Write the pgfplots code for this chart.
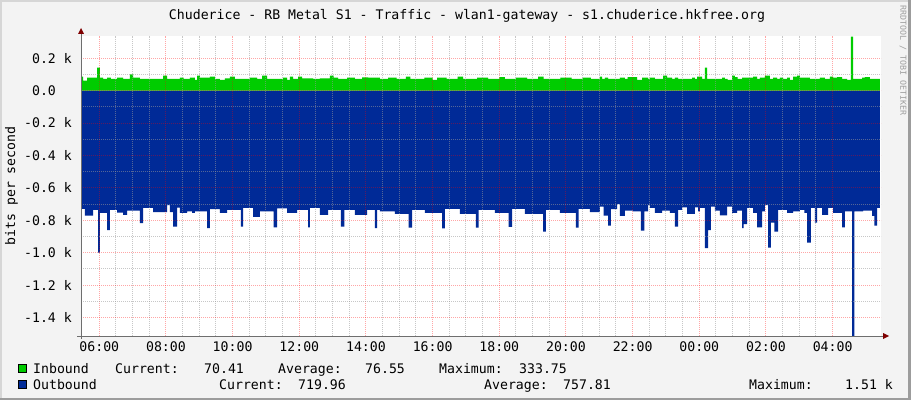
\documentclass[border=0pt]{standalone}
\usepackage{pgfplots}
\pgfplotsset{compat=1.18}
\usepackage{pgfplotstable}
\usepackage{fontspec}
\newfontfamily\rrdfont{DejaVu Sans Mono}
\newcommand{\rf}{\fontsize{13.2bp}{15bp}\selectfont\rrdfont}
\definecolor{bgc}{HTML}{F3F3F3}
\definecolor{shadeA}{HTML}{D6D6D6}
\definecolor{shadeB}{HTML}{9C9C9C}
\definecolor{inb}{HTML}{00CC00}
\definecolor{outb}{HTML}{002A97}
\definecolor{axc}{HTML}{6E6E6E}
\definecolor{arrc}{HTML}{7F0000}

% time in minutes since 00:00 of the first day
\pgfplotstableread{
m v
327 -730
334 -771
349 -735
358 -1000
361 -755
374 -860
379 -736
392 -753
403 -767
410 -741
433 -817
439 -724
457 -749
482 -706
487 -749
493 -839
500 -722
505 -755
518 -745
527 -755
532 -745
554 -848
559 -731
577 -755
590 -736
615 -839
619 -724
637 -779
649 -745
674 -844
680 -727
698 -755
716 -736
736 -844
739 -724
757 -767
772 -736
795 -839
801 -736
820 -767
842 -736
856 -849
860 -736
865 -745
892 -760
917 -845
923 -735
946 -755
977 -850
982 -730
1009 -760
1038 -845
1043 -735
1072 -755
1097 -840
1103 -730
1126 -760
1159 -870
1164 -735
1189 -755
1218 -845
1223 -730
1243 -750
1261 -716
1268 -771
1276 -833
1281 -731
1292 -700
1297 -773
1306 -740
1321 -745
1335 -864
1341 -745
1348 -706
1351 -724
1360 -755
1373 -741
1387 -755
1396 -839
1402 -736
1409 -720
1418 -761
1432 -721
1438 -745
1441 -724
1450 -972
1456 -860
1461 -716
1468 -741
1477 -769
1490 -716
1499 -755
1508 -741
1517 -848
1520 -823
1526 -724
1537 -755
1544 -844
1553 -745
1558 -706
1564 -969
1569 -815
1575 -870
1582 -736
1598 -755
1609 -745
1621 -736
1629 -755
1634 -938
1641 -724
1648 -815
1652 -724
1661 -767
1672 -724
1681 -755
1697 -844
1702 -745
1715 -1514
1719 -745
1735 -741
1751 -773
1755 -833
1760 -724
1765 -724
}\outbound

\pgfplotstableread{
m v
327 86
331 62
338 80
356 142
361 80
367 72
374 80
381 72
392 80
403 72
415 101
421 80
433 72
475 93
482 72
505 80
512 72
523 80
532 66
536 93
541 80
559 86
568 72
577 66
586 76
595 86
604 72
631 80
644 72
653 93
662 72
691 80
698 66
703 86
709 72
718 86
725 76
745 72
757 76
775 93
782 80
790 72
806 80
820 72
833 82
844 80
865 72
880 80
895 72
912 86
920 72
945 80
960 66
968 80
985 72
1005 86
1015 72
1040 80
1060 72
1080 83
1090 72
1110 80
1130 72
1150 86
1160 72
1190 80
1210 72
1230 80
1245 72
1261 86
1265 72
1270 80
1276 72
1297 80
1306 72
1311 83
1328 66
1337 80
1348 72
1351 80
1360 72
1375 93
1382 80
1391 72
1396 80
1402 72
1427 80
1432 72
1436 86
1445 72
1450 142
1454 72
1481 80
1486 72
1491 66
1499 93
1504 83
1509 72
1517 80
1537 86
1544 72
1549 80
1558 93
1567 72
1573 80
1580 72
1585 80
1591 72
1598 80
1603 66
1609 86
1616 93
1621 80
1639 72
1657 80
1666 72
1675 86
1681 80
1688 83
1697 72
1706 66
1713 334
1717 72
1733 80
1738 83
1747 72
1765 72
}\inbound

\begin{document}
\begin{tikzpicture}
\begin{scope}[x=1bp,y=1bp]
\fill[bgc] (0,0) rectangle (911,400);
\fill[shadeA] (0,0) rectangle (2,400);
\fill[shadeA] (0,398) rectangle (911,400);
\fill[shadeB] (908,0) rectangle (911,400);
\fill[shadeB] (0,0) rectangle (911,2);
\end{scope}
\begin{axis}[
  at={(81bp,64bp)}, anchor=south west, scale only axis,
  width=800bp, height=300.3bp,
  xmin=327.1, xmax=1767.1, ymin=-1514, ymax=339,
  axis background/.style={fill=white},
  axis on top,
  axis line style={draw=none},
  tick style={draw=none},
  xtick={360,480,...,1680},
  xticklabels={06:00,08:00,10:00,12:00,14:00,16:00,18:00,20:00,22:00,00:00,02:00,04:00},
  minor x tick num=3,
  ytick={-1400,-1200,...,200},
  yticklabels={{-1.4 k},{-1.2 k},{-1.0 k},{-0.8 k},{-0.6 k},{-0.4 k},{-0.2 k},{0.0\hphantom{ k}},{0.2 k}},
  minor y tick num=1,
  grid=both,
  major grid style={draw=red, opacity=0.35, dash pattern=on 1bp off 1bp, line width=1bp},
  minor grid style={draw=black!40, opacity=0.55, dash pattern=on 1bp off 1bp, line width=1bp},
  ticklabel style={font=\rf, text=black},
  xticklabel style={anchor=base, yshift=-15.4bp},
  yticklabel style={anchor=east, inner sep=0pt, xshift=-9bp},
]
\addplot[const plot, fill=outb, draw=none] table[x=m,y=v]{\outbound} \closedcycle;
\addplot[const plot, fill=inb, draw=none] table[x=m,y=v]{\inbound} \closedcycle;
\end{axis}
\begin{scope}[x=1bp,y=1bp]
% axis lines and arrows
\draw[axc, line width=1bp] (77,64) -- (884,64);
\draw[axc, line width=1bp] (81,61) -- (81,367);
\fill[arrc] (883,61) -- (889,64) -- (883,67) -- cycle;
\fill[arrc] (78,366) -- (81,372) -- (84,366) -- cycle;
% title and labels
\node[anchor=base, inner sep=0pt, font=\rf] at (467,380.7) {Chuderice - RB Metal S1 - Traffic - wlan1-gateway - s1.chuderice.hkfree.org};
\node[rotate=90, anchor=base, inner sep=0pt, font=\rf] at (15,214) {bits per second};
\node[rotate=-90, anchor=west, inner sep=0pt, text=black!38, font=\fontsize{8.3bp}{9bp}\selectfont\rrdfont] at (903,395) {RRDTOOL / TOBI OETIKER};
% legend
\filldraw[fill=inb, draw=black, line width=0.8bp] (18,28) rectangle (26,36);
\filldraw[fill=outb, draw=black, line width=0.8bp] (18,12) rectangle (26,20);
\begin{scope}[every node/.style={anchor=base west, inner sep=0pt, font=\rf}]
\node at (33,26.9) {Inbound};
\node at (115,26.9) {Current:};
\node at (204,26.9) {70.41};
\node at (278,26.9) {Average:};
\node at (365,26.9) {76.55};
\node at (439,26.9) {Maximum:};
\node at (519,26.9) {333.75};
\node at (33,10.9) {Outbound};
\node at (219,10.9) {Current:};
\node at (298,10.9) {719.96};
\node at (484,10.9) {Average:};
\node at (563,10.9) {757.81};
\node at (749,10.9) {Maximum:};
\node at (845,10.9) {1.51 k};
\end{scope}
\end{scope}
\end{tikzpicture}
\end{document}
